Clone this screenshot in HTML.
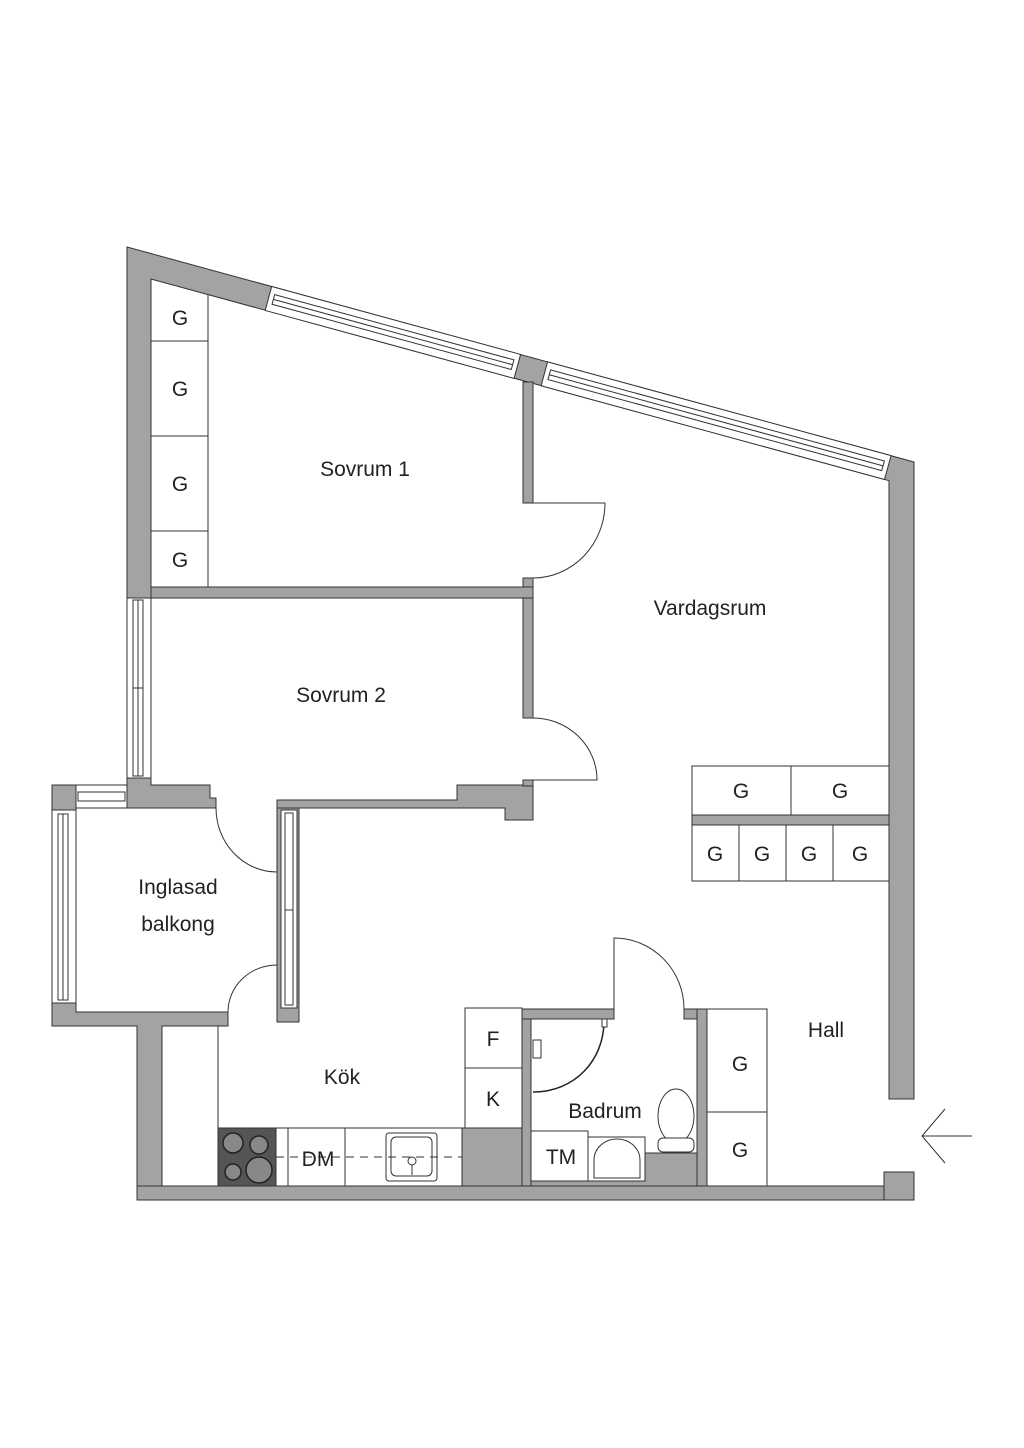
<!DOCTYPE html>
<html><head><meta charset="utf-8"><style>
html,body{margin:0;padding:0;background:#fff;}
svg{display:block;}
text{font-family:"Liberation Sans",sans-serif;fill:#222;}
</style></head><body>
<svg width="1024" height="1448" viewBox="0 0 1024 1448" xmlns="http://www.w3.org/2000/svg">
<g fill="#a3a3a3" stroke="#333" stroke-width="1">
<polygon points="127,247 914,462 914,1099 889,1099 889,480.7 151,279 151,598 127,598"/>
<polygon points="127,778 151,778 151,785 210,785 210,798 216,798 216,808 127,808"/>
<rect x="52" y="785" width="24" height="25"/>
<polygon points="277,800 457,800 457,785 533,785 533,820 505,820 505,808 277,808"/>
<rect x="523" y="382" width="10" height="121"/>
<rect x="523" y="578" width="10" height="140"/>
<rect x="151" y="587" width="382" height="11"/>
<rect x="523" y="780" width="10" height="6"/>
<rect x="277" y="808" width="22" height="214"/>
<polygon points="52,1003 76,1003 76,1012 228,1012 228,1026 162,1026 162,1200 137,1200 137,1026 52,1026"/>
<rect x="137" y="1186" width="777" height="14"/>
<rect x="884" y="1172" width="30" height="28"/>
<rect x="462" y="1128" width="69" height="58"/>
<rect x="522" y="1009" width="9" height="177"/>
<rect x="522" y="1009" width="92" height="10"/>
<rect x="684" y="1009" width="23" height="10"/>
<rect x="697" y="1009" width="10" height="177"/>
<rect x="531" y="1153" width="166" height="33"/>
<rect x="692" y="815" width="197" height="10"/>
</g>
<g transform="translate(127,247) rotate(15.27)" fill="#fff" stroke="#333" stroke-width="1">
<rect x="150" y="0" width="258" height="24.8"/>
<rect x="155" y="7" width="248" height="10" fill="none"/>
<line x1="155" y1="12" x2="403" y2="12"/>
<rect x="436" y="0" width="356" height="24.8"/>
<rect x="441" y="7" width="346" height="10" fill="none"/>
<line x1="441" y1="12" x2="787" y2="12"/>
</g>
<g fill="#fff" stroke="#333" stroke-width="1">
<rect x="127" y="598" width="24" height="180"/>
<rect x="133" y="600" width="10" height="176" fill="none"/>
<line x1="138" y1="600" x2="138" y2="776"/>
<line x1="133" y1="688" x2="143" y2="688"/>
<rect x="76" y="785" width="51" height="23"/>
<rect x="78" y="792" width="47" height="9" fill="none"/>
<rect x="52" y="810" width="24" height="193"/>
<rect x="58" y="814" width="10" height="186" fill="none"/>
<line x1="63" y1="814" x2="63" y2="1000"/>
<rect x="281" y="810" width="16" height="198"/>
<rect x="285" y="813" width="8" height="192" fill="none"/>
<line x1="285" y1="910" x2="293" y2="910"/>
</g>
<g fill="none" stroke="#333" stroke-width="1">
<path d="M533,503 H605 A72,75 0 0 1 533,578"/>
<path d="M533,718 A64,62 0 0 1 597,780 H533"/>
<path d="M216,808 A61,64 0 0 0 277,872"/>
<path d="M277,965 A49,47 0 0 0 228,1012"/>
<path d="M614,1009 V938 A70,71 0 0 1 684,1009"/>
<line x1="218" y1="1026" x2="218" y2="1186"/>
<path d="M922,1136 H972 M945,1109 L922,1136 L945,1163"/>
</g>
<g fill="#fff" stroke="#333" stroke-width="1">
<line x1="208" y1="295" x2="208" y2="587"/>
<line x1="151" y1="341" x2="208" y2="341"/>
<line x1="151" y1="436" x2="208" y2="436"/>
<line x1="151" y1="531" x2="208" y2="531"/>
<rect x="692" y="766" width="197" height="49"/>
<line x1="791" y1="766" x2="791" y2="815"/>
<rect x="692" y="825" width="197" height="56"/>
<line x1="739" y1="825" x2="739" y2="881"/>
<line x1="786" y1="825" x2="786" y2="881"/>
<line x1="833" y1="825" x2="833" y2="881"/>
<rect x="465" y="1008" width="57" height="120"/>
<line x1="465" y1="1068" x2="522" y2="1068"/>
<rect x="218" y="1128" width="244" height="58"/>
<line x1="288" y1="1128" x2="288" y2="1186"/>
<line x1="345" y1="1128" x2="345" y2="1186"/>
<rect x="386" y="1133" width="51" height="48" rx="3"/>
<rect x="391" y="1137" width="41" height="39" rx="5"/>
<rect x="707" y="1009" width="60" height="177"/>
<line x1="707" y1="1112" x2="767" y2="1112"/>
<rect x="531" y="1131" width="57" height="50"/>
<rect x="588" y="1137" width="57" height="44"/>
<path d="M594,1178 V1160 A23,21 0 0 1 640,1160 V1178 Z"/>
<ellipse cx="676" cy="1116" rx="18" ry="27"/>
<rect x="658" y="1138" width="36" height="14" rx="5"/>
</g>
<rect x="218" y="1128" width="58" height="58" fill="#555" stroke="#333"/>
<g fill="#888" stroke="#222" stroke-width="1.5">
<circle cx="233" cy="1143" r="10"/><circle cx="259" cy="1145" r="9"/>
<circle cx="233" cy="1172" r="8"/><circle cx="259" cy="1170" r="13"/>
</g>
<line x1="276" y1="1157" x2="462" y2="1157" stroke="#333" stroke-dasharray="8,6"/>
<circle cx="412" cy="1161" r="4" fill="#fff" stroke="#333"/>
<line x1="412" y1="1165" x2="412" y2="1175" stroke="#333"/>
<path d="M533,1092 C575,1092 604,1060 604,1021" fill="none" stroke="#222" stroke-width="1.5"/>
<rect x="533" y="1040" width="8" height="18" fill="#fff" stroke="#333"/>
<rect x="602" y="1019" width="5" height="8" fill="#fff" stroke="#333"/>
<g font-size="21" text-anchor="middle">
<text x="365" y="476">Sovrum 1</text>
<text x="710" y="615">Vardagsrum</text>
<text x="341" y="702">Sovrum 2</text>
<text x="178" y="894">Inglasad</text>
<text x="178" y="931">balkong</text>
<text x="342" y="1084">Kök</text>
<text x="826" y="1037">Hall</text>
<text x="605" y="1118">Badrum</text>
<text x="493" y="1046">F</text>
<text x="493" y="1106">K</text>
<text x="318" y="1166">DM</text>
<text x="561" y="1164">TM</text>
<text x="180" y="325">G</text>
<text x="180" y="396">G</text>
<text x="180" y="491">G</text>
<text x="180" y="567">G</text>
<text x="741" y="798">G</text>
<text x="840" y="798">G</text>
<text x="715" y="861">G</text>
<text x="762" y="861">G</text>
<text x="809" y="861">G</text>
<text x="860" y="861">G</text>
<text x="740" y="1071">G</text>
<text x="740" y="1157">G</text>
</g>
</svg>
</body></html>
